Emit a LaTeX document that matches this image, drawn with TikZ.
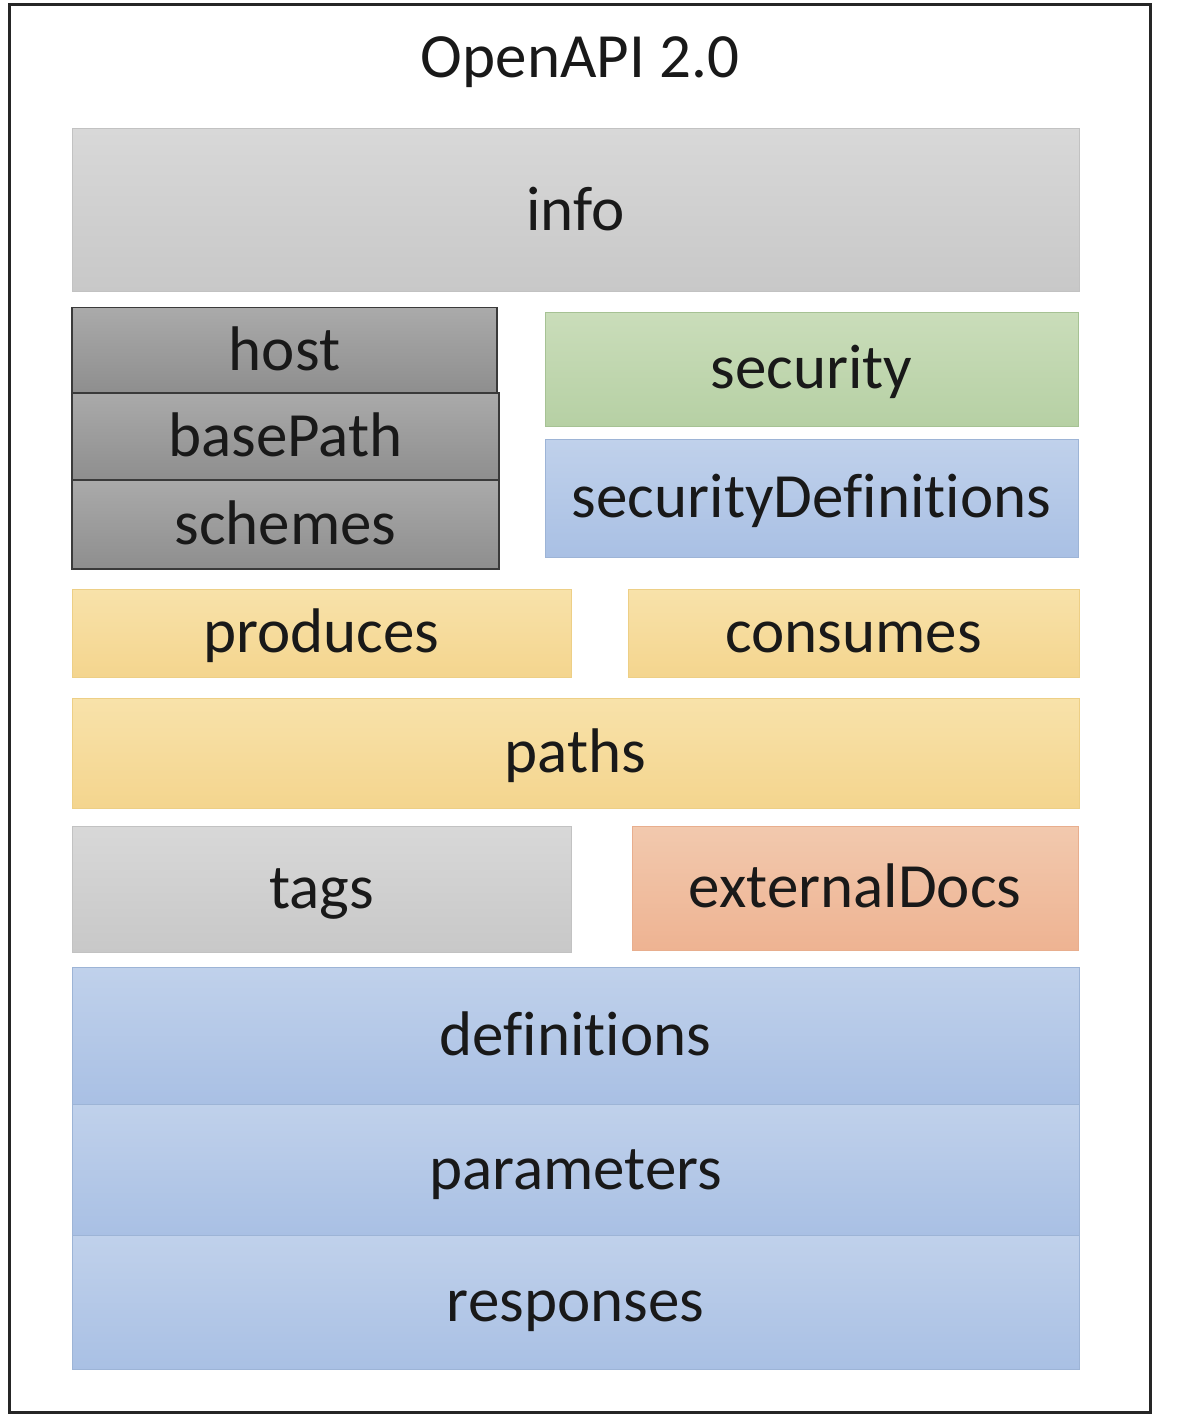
\documentclass[tikz,border=0pt]{standalone}
\usepackage{fontspec}
\setmainfont[Ligatures=NoCommon]{Carlito}
\definecolor{infoT}{HTML}{D8D8D8}\definecolor{infoB}{HTML}{C8C8C8}\definecolor{infoD}{HTML}{C2C2C2}
\definecolor{dgT}{HTML}{AAAAAA}\definecolor{dgB}{HTML}{8E8E8E}\definecolor{dgD}{HTML}{3A3A3A}
\definecolor{grT}{HTML}{CADDBA}\definecolor{grB}{HTML}{B6D0A4}\definecolor{grD}{HTML}{A6C294}
\definecolor{blT}{HTML}{C0D1EB}\definecolor{blB}{HTML}{A9C0E4}\definecolor{blD}{HTML}{9DB4D6}
\definecolor{yeT}{HTML}{F8E2AA}\definecolor{yeB}{HTML}{F4D58E}\definecolor{yeD}{HTML}{EDCF86}
\definecolor{saT}{HTML}{F2C9AE}\definecolor{saB}{HTML}{EEB392}\definecolor{saD}{HTML}{E8AE8E}
\tikzset{
  lbl/.style={inner sep=0pt, text=black!90,
    font=\fontsize{63}{75}\selectfont, text height=47pt, text depth=7.5pt},
  blk/.style={lbl, rectangle, line width=1pt},
  infobox/.style={blk, top color=infoT, bottom color=infoB, draw=infoD},
  darkbox/.style={blk, top color=dgT, bottom color=dgB, draw=dgD, line width=1.2pt},
  greenbox/.style={blk, top color=grT, bottom color=grB, draw=grD},
  bluebox/.style={blk, top color=blT, bottom color=blB, draw=blD},
  yellowbox/.style={blk, top color=yeT, bottom color=yeB, draw=yeD},
  salmonbox/.style={blk, top color=saT, bottom color=saB, draw=saD},
  frame/.style={draw=black!85, line width=3pt},
}
\begin{document}
\begin{tikzpicture}[x=1pt,y=-1pt]
\useasboundingbox (0,0) rectangle (1178,1420);
\node[frame, minimum width=1141pt, minimum height=1407pt, inner sep=0pt] (outer) at (579.5,708.5) {};
\node[lbl] (title) at (580,58) {OpenAPI 2.0};
\node[infobox, minimum width=1007pt, minimum height=163pt] (info) at (575.5,210.5) {info};
\node[darkbox, minimum width=425pt, minimum height=86pt] (host) at (284.5,350.5) {host};
\node[darkbox, minimum width=427pt, minimum height=87pt] (basePath) at (285.5,436.5) {basePath};
\node[darkbox, minimum width=427pt, minimum height=89pt] (schemes) at (285.5,524.5) {schemes};
\node[greenbox, minimum width=533pt, minimum height=114pt] (security) at (811.5,369) {security};
\node[bluebox, minimum width=533pt, minimum height=118pt] (secdef) at (811.5,498) {securityDefinitions};
\node[yellowbox, minimum width=499pt, minimum height=88pt] (produces) at (321.5,633) {produces};
\node[yellowbox, minimum width=451pt, minimum height=88pt] (consumes) at (853.5,633) {consumes};
\node[yellowbox, minimum width=1007pt, minimum height=110pt] (paths) at (575.5,753) {paths};
\node[infobox, minimum width=499pt, minimum height=126pt] (tags) at (321.5,889) {tags};
\node[salmonbox, minimum width=446pt, minimum height=124pt] (extdocs) at (855,888) {externalDocs};
\node[bluebox, minimum width=1007pt, minimum height=137pt] (definitions) at (575.5,1035.5) {definitions};
\node[bluebox, minimum width=1007pt, minimum height=131pt] (parameters) at (575.5,1169.5) {parameters};
\node[bluebox, minimum width=1007pt, minimum height=134pt] (responses) at (575.5,1302) {responses};
\end{tikzpicture}
\end{document}
